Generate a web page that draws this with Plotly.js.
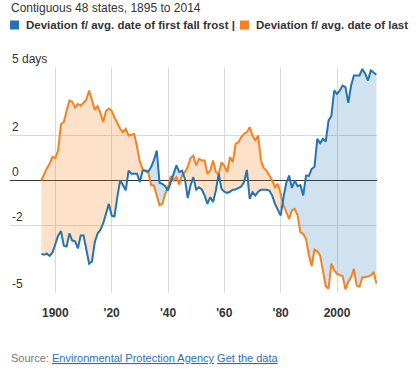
<!DOCTYPE html>
<html>
<head>
<meta charset="utf-8">
<script src="https://cdn.plot.ly/plotly-3.0.1.min.js"></script>
<style>
html,body{margin:0;padding:0;background:#fff;}
#chart{width:420px;height:374px;}
</style>
</head>
<body>
<div id="chart"></div>
<script>
// ---- data ----
const firstYear = 1895;
const lastYear = 2014;
// Deviation from average date of first fall frost (days)
const fallFrost = [
 -3.26,-3.3,-3.25,-3.35,-3.2,-2.8,-2.45,-2.25,-2.9,-2.93,
 -2.35,-2.67,-2.7,-3.02,-2.44,-2.44,-3.15,-3.7,-3.6,-2.74,
 -2.35,-2.2,-1.9,-1.45,-1.04,-1.56,-1.6,-0.74,0.0,-0.2,
 -0.44,0.44,0.3,0.3,0.3,-0.07,0.44,0.44,0.4,0.6,
 0.9,1.33,-0.1,-0.15,-0.25,-0.44,-0.07,0.22,0.67,0.37,
 0.44,0.07,-0.78,-0.22,0.15,-0.41,-0.3,-0.4,-0.67,-1.04,
 -0.74,-0.96,-0.44,0.3,-0.37,-0.5,-0.55,-0.5,-0.41,-0.4,
 -0.35,-0.27,-0.07,0.47,-0.81,-0.52,-0.67,-0.5,-0.41,-0.4,
 -0.41,-0.45,-0.67,-1.04,-1.3,-1.56,-0.75,-0.1,0.22,-0.33,
 0.0,-0.25,-0.2,-0.67,0.22,0.2,0.52,0.6,1.85,1.66,
 1.85,1.73,2.67,2.87,4.0,3.85,4.0,4.22,4.15,3.45,
 4.22,4.67,4.67,4.67,4.96,4.75,4.44,4.89,4.8,4.7
];
// Deviation from average date of last spring frost (days)
const springFrost = [
 0.0,0.3,0.55,0.75,1.05,1.0,1.35,2.5,2.6,3.1,
 3.55,3.5,3.25,3.4,3.33,3.45,3.6,4.0,3.55,3.15,
 3.3,3.0,2.6,3.1,3.2,3.1,2.8,2.55,2.3,2.15,
 2.3,2.0,2.05,2.07,1.5,0.85,0.5,0.4,0.35,-0.2,
 -0.22,-0.7,-1.1,-1.04,-0.6,-0.3,0.2,0.0,0.15,-0.18,
 0.22,0.37,0.6,1.0,1.1,0.67,0.96,0.9,0.89,0.3,
 0.44,0.89,0.37,0.3,0.81,0.65,0.37,1.04,0.81,1.63,
 1.7,1.93,2.07,2.15,2.37,2.0,1.78,2.0,0.89,0.55,
 0.44,0.22,0.0,-0.3,-0.15,-0.59,-1.1,-1.41,-1.7,-1.33,
 -1.26,-1.55,-2.3,-2.37,-2.6,-3.3,-3.8,-3.08,-3.14,-3.33,
 -4.1,-4.7,-4.81,-3.7,-4.0,-4.15,-4.2,-4.25,-4.84,-4.5,
 -4.3,-3.93,-4.67,-4.72,-4.3,-4.3,-4.26,-4.22,-4.07,-4.58
];
const xTickVals = [1900,1920,1940,1960,1980,2000];
const xTickText = ["1900","'20","'40","'60","'80","2000"];
const yTickVals = [5,2,0,-2,-5];
const yTickText = ["5 days","2","0","-2","-5"];
const fallName = "Deviation f/ avg. date of first fall frost";
const springName = "Deviation f/ avg. date of last";

// ---- build ----
const years = [];
for (let y = firstYear; y <= lastYear; y++) years.push(y);

const BLUE = "#2474b1";
const ORANGE = "#f5821f";
const BLUE_FILL = "rgba(31,119,180,0.21)";
const ORANGE_FILL = "rgba(245,130,31,0.24)";

// fill the area between the two series, coloured by which is higher
function polygons() {
  const polys = [];
  let cur = {x: [], top: [], bot: [], sign: 0};
  for (let i = 0; i < years.length; i++) {
    const d = springFrost[i] - fallFrost[i];
    cur.x.push(years[i]); cur.top.push(springFrost[i]); cur.bot.push(fallFrost[i]);
    if (d !== 0 && cur.sign === 0) cur.sign = d > 0 ? 1 : -1;
    if (i < years.length - 1) {
      const d2 = springFrost[i+1] - fallFrost[i+1];
      if (d * d2 < 0) {
        const t = d / (d - d2);
        const xc = years[i] + t;
        const yc = springFrost[i] + t * (springFrost[i+1] - springFrost[i]);
        cur.x.push(xc); cur.top.push(yc); cur.bot.push(yc);
        polys.push(cur);
        cur = {x: [xc], top: [yc], bot: [yc], sign: d2 > 0 ? 1 : -1};
      }
    }
  }
  polys.push(cur);
  return polys;
}

const traces = [];
polygons().forEach(p => {
  traces.push({
    type: "scatter", mode: "lines",
    x: p.x.concat(p.x.slice().reverse()),
    y: p.top.concat(p.bot.slice().reverse()),
    fill: "toself",
    fillcolor: p.sign >= 0 ? ORANGE_FILL : BLUE_FILL,
    line: {width: 0},
    hoverinfo: "skip", showlegend: false
  });
});
traces.push({
  type: "scatter", mode: "lines", name: springName,
  x: years, y: springFrost,
  line: {color: ORANGE, width: 2}, showlegend: false
});
traces.push({
  type: "scatter", mode: "lines", name: fallName,
  x: years, y: fallFrost,
  line: {color: BLUE, width: 2}, showlegend: false
});

const font = "Arial, 'Liberation Sans', sans-serif";
const annotations = yTickVals.map((v, i) => ({
  xref: "paper", yref: "y", x: 0, y: v,
  xanchor: "left", yanchor: "bottom",
  text: yTickText[i], showarrow: false,
  font: {family: font, size: 12, color: "#333"},
  xshift: 0, yshift: 0
}));
annotations.push({
  xref: "paper", yref: "paper", x: 0, y: 1, xanchor: "left", yanchor: "middle",
  yshift: 60, xshift: -1,
  text: "Contiguous 48 states, " + firstYear + " to " + lastYear,
  showarrow: false, font: {family: font, size: 12, color: "#333"}
});
annotations.push({
  xref: "paper", yref: "paper", x: 0, y: 1, xanchor: "left", yanchor: "middle",
  yshift: 43, xshift: 14,
  text: "<b>" + fallName + " |</b>",
  showarrow: false, font: {family: font, size: 11.5, color: "#333"}
});
annotations.push({
  xref: "paper", yref: "paper", x: 0, y: 1, xanchor: "left", yanchor: "middle",
  yshift: 43, xshift: 244,
  text: "<b>" + springName + "</b>",
  showarrow: false, font: {family: font, size: 11.5, color: "#333"}
});
annotations.push({
  xref: "paper", yref: "paper", x: 0, y: 0, xanchor: "left", yanchor: "middle",
  yshift: -65, xshift: -1,
  text: "<span style='color:#777'>Source:</span> <u>Environmental Protection Agency</u> <u>Get the data</u>",
  showarrow: false, font: {family: font, size: 11, color: "#2a6ebb"}
});

const shapes = [
  {type: "rect", xref: "paper", yref: "paper", xsizemode: "pixel", ysizemode: "pixel",
   xanchor: 0, yanchor: 1, x0: 0, x1: 9, y0: 38.5, y1: 47.5,
   fillcolor: BLUE, line: {width: 0}},
  {type: "rect", xref: "paper", yref: "paper", xsizemode: "pixel", ysizemode: "pixel",
   xanchor: 0, yanchor: 1, x0: 230, x1: 239, y0: 38.5, y1: 47.5,
   fillcolor: ORANGE, line: {width: 0}}
];

const layout = {
  width: 420, height: 374,
  margin: {l: 10, r: 43, t: 68, b: 81},
  paper_bgcolor: "#fff", plot_bgcolor: "#fff",
  showlegend: false,
  xaxis: {
    range: [1883.9, 2014.2],
    tickvals: xTickVals, ticktext: xTickText,
    showgrid: true, gridcolor: "#d9d9d9", gridwidth: 1,
    zeroline: false, showline: false, ticks: "",
    ticklabelstandoff: 11,
    tickfont: {family: font, size: 12, color: "#333", weight: "bold"}
  },
  yaxis: {
    range: [-5, 5],
    tickvals: yTickVals, showticklabels: false,
    showgrid: true, gridcolor: "#d9d9d9", gridwidth: 1,
    zeroline: true, zerolinecolor: "#333", zerolinewidth: 1,
    showline: false, ticks: ""
  },
  annotations: annotations,
  shapes: shapes
};

Plotly.newPlot("chart", traces, layout, {displayModeBar: false, staticPlot: true});
</script>
</body>
</html>
